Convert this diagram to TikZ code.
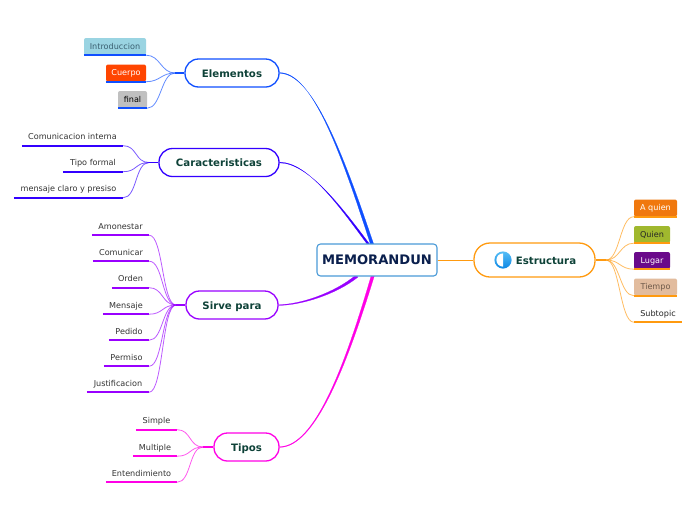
\documentclass[tikz,border=0pt]{standalone}
\usepackage{fontspec}
\setmainfont{DejaVu Sans}
\usetikzlibrary{calc}
\definecolor{cEl}{HTML}{0F4FFF}
\definecolor{cCa}{HTML}{3300FF}
\definecolor{cSi}{HTML}{9900FF}
\definecolor{cTi}{HTML}{FF00E6}
\definecolor{cEs}{HTML}{FF9A0F}
\definecolor{ink}{HTML}{0E4238}
\definecolor{navy}{HTML}{0A1F4D}
\definecolor{rim}{HTML}{4A9BD8}
\definecolor{tgA}{HTML}{9AD4E2}
\definecolor{tgB}{HTML}{FF4500}
\definecolor{tgC}{HTML}{C0C0C0}
\definecolor{tgD}{HTML}{F0780E}
\definecolor{tgE}{HTML}{A0B82E}
\definecolor{tgF}{HTML}{6A0A8A}
\definecolor{tgG}{HTML}{E2BC9E}
\definecolor{txA}{HTML}{3A5F70}
\definecolor{txG}{HTML}{6E5A4A}
\definecolor{icT}{HTML}{55BDF6}
\definecolor{icB}{HTML}{0E88E4}
\tikzset{
  x=1pt,y=-1pt,
  topic/.style={draw,line width=1.3pt,fill=white,rounded corners=13.5pt,minimum height=28pt,inner sep=0pt,text=ink,text height=8.4pt,text depth=0pt,font=\fontsize{10.2}{12}\selectfont\bfseries},
  toptext/.style={inner sep=0pt,text=ink,text height=8.4pt,text depth=0pt,font=\fontsize{10.2}{12}\selectfont\bfseries},
  rootnode/.style={draw=rim,line width=1.1pt,fill=white,rounded corners=3.5pt,minimum width=120pt,minimum height=32pt,inner sep=0pt,text=navy,font=\fontsize{13.1}{15}\selectfont\bfseries},
  sub/.style={inner sep=0pt,minimum height=17pt,text=black!80,text height=7pt,text depth=2pt,font=\fontsize{8.1}{10}\selectfont},
  tag/.style={sub,rounded corners=2pt,fill=#1},
  under/.style={line width=2pt,draw=#1},
  twig/.style={line width=.8pt,draw=#1,draw opacity=.65},
  stub/.style={line width=1.5pt,draw=#1},
  limb/.style={fill=#1,draw=#1,line width=.2pt,line join=round},
}
\newcommand{\leftkids}[3]{%
  \foreach \k in {#3}{
    \draw[twig=#1] (\k.south east) .. controls ($(\k.south east)+(14,0)$) and ($(#2)+(-14,0)$) .. (#2);
    \draw[under=#1] (\k.south west) -- (\k.south east);
  }}
\newcommand{\rightkids}[3]{%
  \foreach \k in {#3}{
    \draw[twig=#1] (\k.south west) .. controls ($(\k.south west)+(-14,0)$) and ($(#2)+(14,0)$) .. (#2);
    \draw[under=#1] (\k.south west) -- (\k.south east);
  }}
\begin{document}
\begin{tikzpicture}
\useasboundingbox (0,0) rectangle (696,520);
\fill[white] (0,0) rectangle (696,520);
% anchors on the central topic
\coordinate (a1) at (372,244);
\coordinate (a2) at (368.3,244);
\coordinate (a3) at (357,276);
\coordinate (a4) at (372.7,276);
% main topics
\node[topic,draw=cEl,minimum width=94pt] (el) at (232,73) {Elementos};
\node[topic,draw=cCa,minimum width=120pt] (ca) at (219,162.5) {Caracteristicas};
\node[topic,draw=cSi,minimum width=92pt] (si) at (232,305) {Sirve para};
\node[topic,draw=cTi,minimum width=65pt] (ti) at (246.5,447) {Tipos};
\node[topic,draw=cEs,minimum width=121pt,minimum height=34pt,rounded corners=16pt] (es) at (534.5,260) {};
\node[toptext] (eslabel) at (546,260) {Estructura};
% limbs
\fill[limb=cCa] ($(ca.east)+(0,-.35)$) .. controls (308,162.3) and (339.4,206.4) .. ($(a2)+(-1.2,0)$) -- ($(a2)+(1.2,0)$) .. controls (340.6,205.6) and (308,163.1) .. ($(ca.east)+(0,.35)$) -- cycle;
\fill[limb=cEl] ($(el.east)+(0,-.35)$) .. controls (312,72.6) and (340.2,150.4) .. ($(a1)+(-1.6,0)$) -- ($(a1)+(1.6,0)$) .. controls (341.8,149.6) and (312,73.4) .. ($(el.east)+(0,.35)$) -- cycle;
\fill[limb=cSi] ($(si.east)+(0,-.35)$) .. controls (300,304.6) and (334.6,293) .. ($(a3)+(-.9,-1.1)$) -- ($(a3)+(.9,1.1)$) .. controls (335.4,295) and (300,305.4) .. ($(si.east)+(0,.35)$) -- cycle;
\fill[limb=cTi] ($(ti.east)+(0,-.35)$) .. controls (315,446.6) and (345.2,364.6) .. ($(a4)+(-1.6,0)$) -- ($(a4)+(1.6,0)$) .. controls (346.8,365.4) and (315,447.4) .. ($(ti.east)+(0,.35)$) -- cycle;
% hubs
\coordinate (hel) at (175,73);
\coordinate (hca) at (149,162.5);
\coordinate (hsi) at (176,305);
\coordinate (hti) at (203,447);
\coordinate (hes) at (606,260);
\draw[stub=cEl] (hel) -- (el.west);
\draw[stub=cCa] (hca) -- (ca.west);
\draw[stub=cSi] (hsi) -- (si.west);
\draw[stub=cTi] (hti) -- (ti.west);
\draw[stub=cEs] (hes) -- (es.east);
% children of Elementos
\node[tag=tgA,minimum width=62pt,text=txA] (e1) at (115,46.5) {Introduccion};
\node[tag=tgB,minimum width=40pt,text=white] (e2) at (126,73) {Cuerpo};
\node[tag=tgC,minimum width=29pt,text=black] (e3) at (132.5,99.5) {final};
\leftkids{cEl}{hel}{e1,e2,e3}
% children of Caracteristicas
\node[sub,minimum width=101pt] (c1) at (72.5,137) {Comunicacion interna};
\node[sub,minimum width=60pt] (c2) at (93,163) {Tipo formal};
\node[sub,minimum width=109pt] (c3) at (68.5,189) {mensaje claro y presiso};
\leftkids{cCa}{hca}{c1,c2,c3}
% children of Sirve para
\node[sub,minimum width=57pt] (s1) at (120.5,226.5) {Amonestar};
\node[sub,minimum width=56pt] (s2) at (121,252.5) {Comunicar};
\node[sub,minimum width=37pt] (s3) at (130.5,279) {Orden};
\node[sub,minimum width=46pt] (s4) at (126,305.5) {Mensaje};
\node[sub,minimum width=40pt] (s5) at (129,331.5) {Pedido};
\node[sub,minimum width=45pt] (s6) at (126.5,357.5) {Permiso};
\node[sub,minimum width=62pt] (s7) at (118,383.5) {Justificacion};
\leftkids{cSi}{hsi}{s1,s2,s3,s4,s5,s6,s7}
% children of Tipos
\node[sub,minimum width=41pt] (t1) at (156.5,421) {Simple};
\node[sub,minimum width=44pt] (t2) at (155,447.5) {Multiple};
\node[sub,minimum width=71pt] (t3) at (141.5,473.5) {Entendimiento};
\leftkids{cTi}{hti}{t1,t2,t3}
% children of Estructura
\node[tag=tgD,minimum width=43pt,text=white] (q1) at (655.5,208) {A quien};
\node[tag=tgE,minimum width=36pt,text=black!85] (q2) at (652,234.5) {Quien};
\node[tag=tgF,minimum width=36pt,text=white] (q3) at (652,260.5) {Lugar};
\node[tag=tgG,minimum width=43pt,text=txG] (q4) at (655.5,287) {Tiempo};
\node[sub,minimum width=48pt,text=black!85] (q5) at (658,313.5) {Subtopic};
\rightkids{cEs}{hes}{q1,q2,q3,q4,q5}
% central topic
\node[rootnode] (rt) at (377,260) {MEMORANDUN};
\draw[line width=.9pt,draw=cEs] (rt) -- (es);
% icon
\coordinate (ic) at (503,260);
\shade[top color=icT,bottom color=icB] (ic) circle[radius=8.6];
\begin{scope}
\clip ($(ic)+(-9,-9)$) rectangle ($(ic)+(0,9)$);
\fill[white] (ic) circle[radius=6.6];
\end{scope}
\end{tikzpicture}
\end{document}
